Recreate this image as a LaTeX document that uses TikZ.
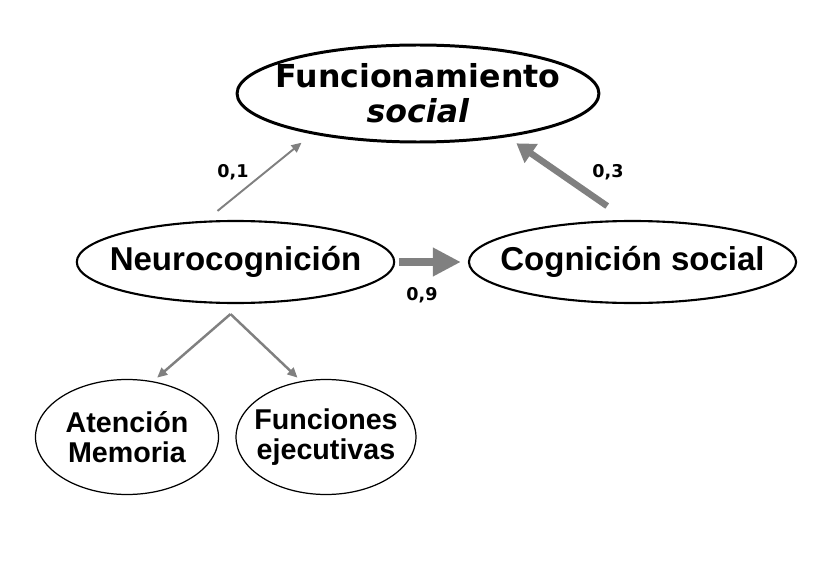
\documentclass[tikz,border=0pt]{standalone}
\usepackage{fontspec}
\setmainfont{Liberation Sans}
\newfontfamily\verd{DejaVu Sans}
\usepackage{tikz}
\usetikzlibrary{arrows.meta, shapes.geometric}
\definecolor{arrowgray}{RGB}{128,128,128}
\tikzset{
  big/.style={draw, ellipse, inner ysep=0pt, line width=1.2pt, font=\bfseries\fontsize{18.8}{22}\selectfont},
  small/.style={draw, ellipse, inner ysep=0pt, line width=0.7pt, align=center, font=\bfseries\fontsize{16.3}{17}\selectfont},
  coef/.style={font=\verd\bfseries\fontsize{10}{11}\selectfont},
  thin/.style={draw=arrowgray, line width=1.1pt, -{Triangle[length=0.2cm, width=0.18cm]}},
  thick/.style={draw=arrowgray, line width=3.7pt, -{Triangle[length=0.36cm, width=0.44cm]}},
  block/.style={draw=arrowgray, line width=5.1pt, -{Triangle[length=0.56cm, width=0.54cm]}}
}
\begin{document}
\begin{tikzpicture}
      \useasboundingbox (0, 0) rectangle (16.76, 11.42);
      \node[draw, ellipse, inner ysep=0pt, inner xsep=-0.29cm, line width=1.7pt, minimum width=7.2cm, minimum height=1.94cm, align=center, font=\verd\bfseries\fontsize{18}{20}\selectfont] (FS) at (8.36, 9.55) {Funcionamiento\\ \textit{social}};
      \node[big, inner xsep=-0.27cm, minimum width=6.3cm, minimum height=1.64cm] (NC) at (4.71, 6.18) {Neurocognición};
      \node[big, inner xsep=-0.33cm, minimum width=6.5cm, minimum height=1.64cm] (CS) at (12.65, 6.18) {Cognición social};
      \node[small, inner xsep=0pt, minimum width=3.66cm, minimum height=2.3cm] (AM) at (2.54, 2.68) {Atención\\Memoria};
      \node[small, inner xsep=-0.16cm, minimum width=3.56cm, minimum height=2.3cm] (FE) at (6.52, 2.68) {Funciones\\ejecutivas};

      \draw[thin, shorten <=0.31cm, shorten >=0.27cm] (NC.126) to (FS.201);
      \draw[thick, shorten <=0.49cm, shorten >=0.22cm] (CS.97) to (FS.334);
      \draw[block, shorten <=0.08cm, shorten >=0.14cm] (NC.east) to (CS.west);
      \node[coef] (c1) at (4.66, 7.98) {0,1};
      \node[coef] (c3) at (12.16, 7.98) {0,3};
      \node[coef] (c9) at (8.44, 5.52) {0,9};

      \coordinate (fork) at ([shift={(-0.1, -0.2)}]NC.south);
      \draw[thin, line width=1.4pt, shorten >=0.11cm] (fork) to (AM.65);
      \draw[thin, line width=1.4pt, shorten >=0.1cm] (fork) to (FE.114);
    \end{tikzpicture}
\end{document}
